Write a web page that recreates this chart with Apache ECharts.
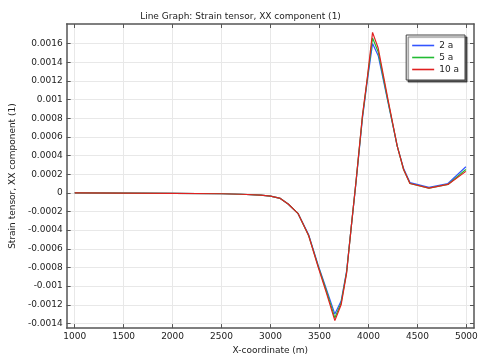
<!DOCTYPE html>
<html><head><meta charset="utf-8">
<script src="https://cdn.jsdelivr.net/npm/echarts@6/dist/echarts.min.js"></script>
<style>html,body{margin:0;padding:0;background:#fff}#c{width:481px;height:360px}</style>
</head><body><div id="c"></div>
<script>
const xCoords = [1000, 1500, 2000, 2500, 2700, 2900, 3000, 3100, 3180, 3280, 3390, 3485, 3570, 3657, 3721, 3777, 3825, 3874, 3939, 3987, 4042, 4100, 4200, 4294, 4359, 4424, 4618, 4812, 4995];
const s2a  = [0, -0.000002, -0.000005, -0.00001, -0.000015, -0.000025, -0.000035, -0.00006, -0.00012, -0.00022, -0.00045, -0.00077, -0.00103, -0.00130, -0.00116, -0.00084, -0.00036, 0.00012, 0.00080, 0.00119, 0.00160, 0.00147, 0.00097, 0.00050, 0.00026, 0.00011, 0.00006, 0.00010, 0.00028];
const s5a  = [0, -0.000002, -0.000005, -0.00001, -0.000015, -0.000025, -0.000035, -0.00006, -0.00012, -0.00022, -0.00046, -0.00078, -0.00105, -0.00134, -0.00118, -0.00085, -0.00036, 0.00013, 0.00082, 0.00121, 0.00166, 0.00151, 0.00098, 0.00050, 0.00025, 0.00010, 0.00005, 0.00009, 0.00025];
const s10a = [0, -0.000002, -0.000005, -0.00001, -0.000015, -0.000025, -0.000035, -0.00006, -0.00012, -0.00022, -0.00046, -0.00079, -0.00107, -0.00137, -0.00120, -0.00086, -0.00036, 0.00013, 0.00083, 0.00122, 0.00172, 0.00155, 0.00100, 0.00050, 0.00025, 0.00010, 0.00005, 0.00009, 0.00023];
const seriesNames = ['2 a', '5 a', '10 a'];
const xTicks = [1000, 1500, 2000, 2500, 3000, 3500, 4000, 4500, 5000];
const yTicks = [-0.0014, -0.0012, -0.001, -0.0008, -0.0006, -0.0004, -0.0002, 0, 0.0002, 0.0004, 0.0006, 0.0008, 0.001, 0.0012, 0.0014, 0.0016];

const FONT = 'DejaVu Sans';
const frame = {onZero: false, lineStyle: {color: '#555', width: 1.5}};
const tick = (vals) => ({show: true, inside: true, length: 4, customValues: vals, lineStyle: {color: '#555', width: 1}});
const X_MIN = 918, X_MAX = 5078, Y_MIN = -0.00145, Y_MAX = 0.00181;
const colors = ['#3355ff', '#22bb33', '#e02020'];
const datas = [s2a, s5a, s10a];

const chart = echarts.init(document.getElementById('c'), null, {renderer: 'canvas'});
chart.setOption({
  animation: false,
  title: {text: 'Line Graph: Strain tensor, XX component (1)', left: 'center', top: 7,
    textStyle: {fontFamily: FONT, fontSize: 9, fontWeight: 'normal', color: '#222'}},
  grid: {left: 45, right: 7, top: 24, bottom: 26, containLabel: false},
  legend: {
    orient: 'vertical', right: 16, top: 35, data: seriesNames,
    icon: 'rect', itemWidth: 22, itemHeight: 1.6, itemGap: 1,
    padding: [5, 6, 5, 6],
    backgroundColor: '#fff', borderColor: '#444', borderWidth: 1,
    shadowColor: 'rgba(0,0,0,0.6)', shadowBlur: 1, shadowOffsetX: 2, shadowOffsetY: 2,
    textStyle: {fontFamily: FONT, fontSize: 9, color: '#222', lineHeight: 11}
  },
  xAxis: [
    {type: 'value', min: X_MIN, max: X_MAX, name: 'X-coordinate (m)', nameLocation: 'middle', nameGap: 16,
     nameTextStyle: {fontFamily: FONT, fontSize: 9, color: '#222'},
     axisLine: frame, axisTick: tick(xTicks),
     axisLabel: {customValues: xTicks, fontFamily: FONT, fontSize: 9, color: '#222', margin: 4,
       formatter: v => String(Math.round(v))},
     splitLine: {show: true, lineStyle: {color: '#e8e8e8', width: 1}}},
    {type: 'value', position: 'top', min: X_MIN, max: X_MAX, axisLine: frame, axisTick: tick(xTicks),
     axisLabel: {show: false}, splitLine: {show: false}}
  ],
  yAxis: [
    {type: 'value', min: Y_MIN, max: Y_MAX, name: 'Strain tensor, XX component (1)', nameLocation: 'middle', nameGap: 41,
     nameTextStyle: {fontFamily: FONT, fontSize: 9, color: '#222'},
     axisLine: frame, axisTick: tick(yTicks),
     axisLabel: {customValues: yTicks, fontFamily: FONT, fontSize: 9, color: '#222', margin: 4,
       formatter: v => String(+(+v).toFixed(5))},
     splitLine: {show: true, lineStyle: {color: '#e8e8e8', width: 1}}},
    {type: 'value', position: 'right', min: Y_MIN, max: Y_MAX, axisLine: frame, axisTick: tick(yTicks),
     axisLabel: {show: false}, splitLine: {show: false}}
  ],
  series: seriesNames.map((n, i) => ({
    name: n, type: 'line', xAxisIndex: 0, yAxisIndex: 0, showSymbol: false, symbol: 'none',
    lineStyle: {color: colors[i], width: 1.2}, itemStyle: {color: colors[i]},
    data: xCoords.map((x, k) => [x, datas[i][k]])
  }))
});
</script></body></html>
